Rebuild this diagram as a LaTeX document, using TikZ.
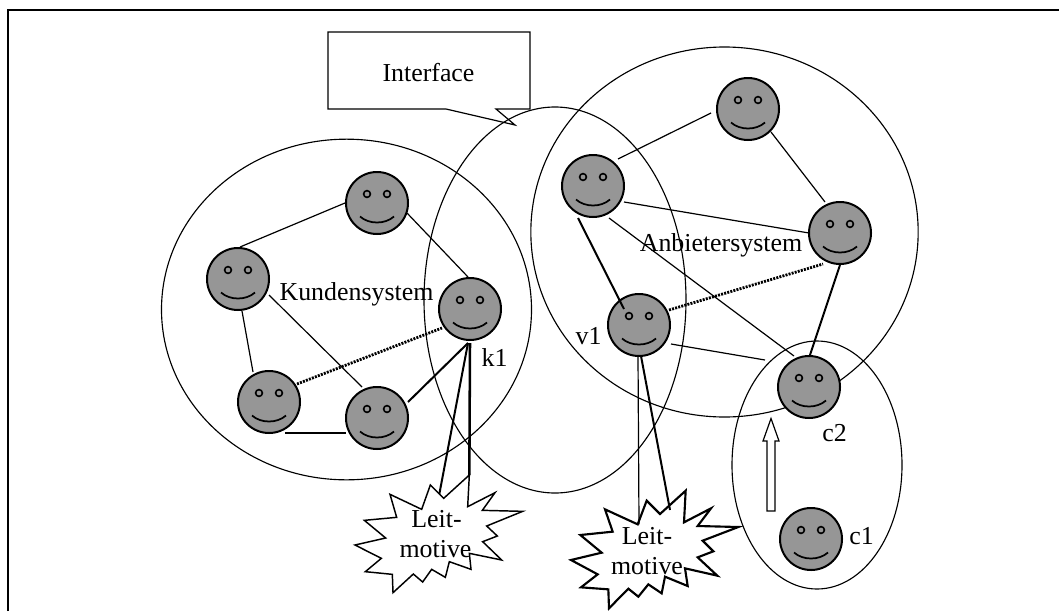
\documentclass[tikz,border=0pt]{standalone}
\usepackage{fontspec}
\setmainfont{Liberation Serif}
\usetikzlibrary{shapes.geometric}
\definecolor{facegray}{RGB}{150,150,150}
\tikzset{
  hair/.style={line width=0.9pt},
  midline/.style={line width=1pt},
  strong/.style={line width=1.5pt},
  heavy/.style={line width=1.9pt},
  dotline/.style={line width=2.1pt,dash pattern=on 1.5pt off 0.9pt},
  frameline/.style={line width=1.1pt},
  region/.style={draw,ellipse,line width=0.85pt,inner sep=0pt,outer sep=0pt},
  facebox/.style={draw,circle,fill=facegray,line width=1.5pt,minimum size=46.5pt,inner sep=0pt,outer sep=0pt},
  label/.style={inner sep=0pt,outer sep=0pt,anchor=base,font=\fontsize{19.4}{22}\selectfont},
  burst/.style={fill=white,draw,line join=miter},
}
\newcommand{\smiley}[3]{%
  \node[facebox] (#1) at (#2,#3) {};
  \draw[line width=1.2pt] (#2-10,#3-9) circle (3.4) (#2+10,#3-9) circle (3.4);
  \draw[line width=1.3pt] (#2-17,#3+13.5) .. controls (#2-8,#3+21.5) and (#2+8,#3+21.5) .. (#2+17,#3+13.5);
}
\begin{document}
\begin{tikzpicture}[x=0.75pt,y=-0.75pt]
\useasboundingbox (0,0) rectangle (1059,611);
\fill[white] (0,0) rectangle (1059,611);
% page frame
\coordinate (frameBL) at (8,611);
\coordinate (frameTL) at (8,10);
\coordinate (frameTR) at (1059,10);
\draw[frameline] (frameBL) -- (frameTL) -- (frameTR);
% regions
\node[region,minimum width=277.5pt,minimum height=255.5pt] (kunden) at (346.5,309.5) {};
\node[region,minimum width=196.5pt,minimum height=289.5pt] (iface) at (555,300) {};
\node[region,minimum width=290.5pt,minimum height=277.5pt] (anbieter) at (724.5,232) {};
\node[region,minimum width=127.5pt,minimum height=186pt] (kette) at (817,465) {};
% callout
\draw[line width=0.9pt,line join=miter] (328,32) -- (530,32) -- (530,109) -- (496,109) -- (515,125) -- (446,109) -- (328,109) -- cycle;
% faces
\smiley{a1}{377}{203}
\smiley{a2}{238}{279}
\smiley{a3}{269}{402}
\smiley{a4}{377}{418}
\smiley{k1}{470}{309}
\smiley{b1}{748}{109}
\smiley{b2}{593}{186}
\smiley{b3}{840}{233}
\smiley{v1}{639}{325}
\smiley{c2}{809}{387}
\smiley{c1}{811}{539}
% bursts
\begin{scope}[shift={(350,470)},x=0.25pt,y=-0.25pt]
\draw[burst,line width=1.1pt] (358,15) -- (281,85) -- (241,45) -- (215,118) -- (120,73) -- (140,142) -- (43,151) -- (107,204) -- (15,225) -- (94,265) -- (46,305) -- (127,313) -- (129,368) -- (190,312) -- (218,336) -- (245,298) -- (286,322) -- (298,275) -- (363,298) -- (358,250) -- (455,270) -- (398,215) -- (442,198) -- (410,168) -- (518,124) -- (397,121) -- (435,68) -- (353,110) -- cycle;
\coordinate (burstAa) at (268,72);
\coordinate (burstAb) at (358,15);
\end{scope}
\begin{scope}[shift={(565,480)},x=0.25pt,y=-0.25pt]
\draw[burst,line width=1.6pt] (218,133) -- (245,62) -- (285,102) -- (362,32) -- (357,127) -- (438,85) -- (398,138) -- (520,141) -- (413,182) -- (445,214) -- (398,232) -- (457,287) -- (360,265) -- (368,318) -- (300,290) -- (290,340) -- (250,313) -- (220,350) -- (190,326) -- (132,385) -- (130,328) -- (48,322) -- (98,283) -- (18,240) -- (110,218) -- (46,165) -- (143,155) -- (120,88) -- cycle;
\coordinate (burstBa) at (222,133);
\coordinate (burstBb) at (315,90);
\end{scope}
% connectors, left system
\draw[hair] ([shift={(2,-32)}]a2.center) -- ([shift={(-32,0)}]a1.center);
\draw[hair] ([shift={(30,10)}]a1.center) -- ([shift={(-2,-32)}]k1.center);
\draw[hair] ([shift={(4,32)}]a2.center) -- ([shift={(-16,-30)}]a3.center);
\draw[hair] ([shift={(31,16)}]a2.center) -- ([shift={(-15,-31)}]a4.center);
\draw[dotline] ([shift={(28,-18)}]a3.center) -- ([shift={(-28,19)}]k1.center);
\draw[midline] ([shift={(16,31)}]a3.center) -- ([shift={(-31,15)}]a4.center);
\draw[strong] ([shift={(31,-16)}]a4.center) -- ([shift={(-2,34)}]k1.center);
\draw[strong] ([shift={(-2,34)}]k1.center) -- (burstAa);
\draw[heavy] ([shift={(0,34)}]k1.center) -- (burstAb);
% connectors, right system
\draw[hair] ([shift={(25,-27)}]b2.center) -- ([shift={(-37,4)}]b1.center);
\draw[hair] ([shift={(23,23)}]b1.center) -- ([shift={(-15,-31)}]b3.center);
\draw[hair] ([shift={(31,16)}]b2.center) -- ([shift={(-31,0)}]b3.center);
\draw[strong] ([shift={(-15,32)}]b2.center) -- ([shift={(-15,-16)}]v1.center);
\draw[hair] ([shift={(16,32)}]b2.center) -- ([shift={(-15,-31)}]c2.center);
\draw[dotline] ([shift={(30,-15)}]v1.center) -- ([shift={(-17,31)}]b3.center);
\draw[strong] ([shift={(0,32)}]b3.center) -- ([shift={(1,-32)}]c2.center);
\draw[hair] ([shift={(32,19)}]v1.center) -- ([shift={(-44,-27)}]c2.center);
\draw[hair] ([shift={(-1,31)}]v1.center) -- (burstBa);
\draw[strong] ([shift={(2,31)}]v1.center) -- (burstBb);
% hollow arrow
\draw[line width=0.9pt,fill=white,line join=miter] (775,511) -- (775,441) -- (779,441) -- (771,418.5) -- (763,441) -- (767,441) -- (767,511) -- cycle;
% labels
\node[label] (lInterface) at (428.5,81) {Interface};
\node[label] (lKunden) at (356.5,300) {Kundensystem};
\node[label] (lAnbieter) at (721,251) {Anbietersystem};
\node[label] (lk1) at (494.5,366) {k1};
\node[label] (lv1) at (588.5,344) {v1};
\node[label] (lc2) at (834.5,441) {c2};
\node[label] (lc1) at (861.5,544) {c1};
\node[label] (leitA) at (436.5,527) {Leit-};
\node[label] (motiveA) at (435.5,557) {motive};
\node[label] (leitB) at (647,544) {Leit-};
\node[label] (motiveB) at (647,574) {motive};
\end{tikzpicture}
\end{document}
